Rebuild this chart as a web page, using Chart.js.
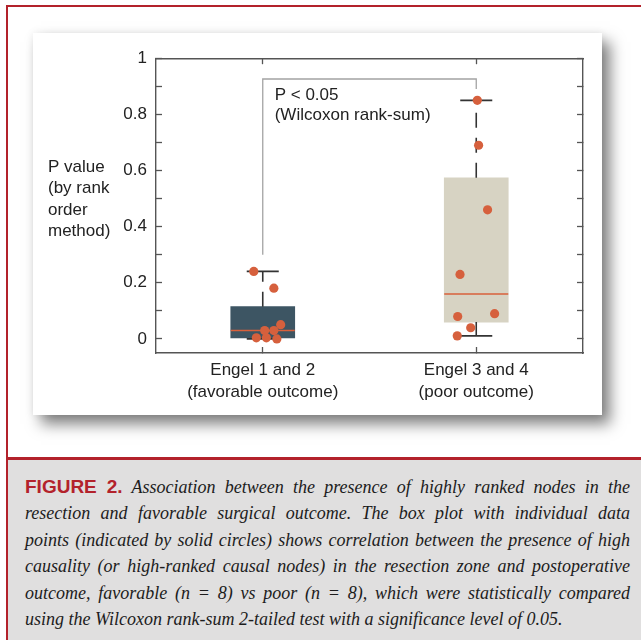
<!DOCTYPE html>
<html><head><meta charset="utf-8">
<script src="https://cdn.jsdelivr.net/npm/chart.js@4.4.1/dist/chart.umd.min.js"></script>
<style>
html,body{margin:0;padding:0;background:#fff;}
body{width:641px;height:640px;position:relative;overflow:hidden;}
#topline{position:absolute;left:6px;top:5px;width:635px;height:2px;background:#b3222b;}
#leftline{position:absolute;left:6px;top:5px;width:2px;height:635px;background:#b3222b;z-index:3;}
#card{position:absolute;left:33px;top:33px;width:569px;height:382px;background:#fff;
  box-shadow:8px 9px 14px rgba(0,0,0,0.5),0 0 8px rgba(0,0,0,0.07);}
#card canvas{position:absolute;left:0;top:0;}
#capbg{position:absolute;left:6px;top:457px;width:635px;height:183px;background:#e0dfdf;border-top:3px solid #b3222b;box-sizing:border-box;}
#caption{position:absolute;left:25px;top:474px;width:605px;font:italic 18px "Liberation Serif","Times New Roman",serif;line-height:26.4px;color:#1c1c1c;}
.ln{white-space:nowrap;}
.j{text-align:justify;text-align-last:justify;}
.fig{font:bold normal 19px "Liberation Sans",Arial,sans-serif;color:#b3222b;}
</style>
</head><body>
<div id="topline"></div>
<div id="leftline"></div>
<div id="card"><canvas id="c" width="569" height="382"></canvas></div>
<div id="capbg"></div>
<div id="caption">
<div class="ln j"><span class="fig">FIGURE 2.</span> Association between the presence of highly ranked nodes in the</div>
<div class="ln j">resection and favorable surgical outcome. The box plot with individual data</div>
<div class="ln j">points (indicated by solid circles) shows correlation between the presence of high</div>
<div class="ln j">causality (or high-ranked causal nodes) in the resection zone and postoperative</div>
<div class="ln j">outcome, favorable (n = 8) vs poor (n = 8), which were statistically compared</div>
<div class="ln">using the Wilcoxon rank-sum 2-tailed test with a significance level of 0.05.</div>
</div>
<script>
// ---- data ----
const categories = [['Engel 1 and 2', '(favorable outcome)'], ['Engel 3 and 4', '(poor outcome)']];
const groupX = [1, 2];
const q1 = [0.004, 0.060];
const medians = [0.030, 0.160];
const q3 = [0.115, 0.574];
const whiskerLow = [0.0, 0.011];
const whiskerHigh = [0.2405, 0.850];
const favorableX = [0.958, 1.052, 1.084, 1.009, 1.052, 0.970, 1.017, 1.066];
const favorableP = [0.2405, 0.181, 0.051, 0.030, 0.030, 0.004, 0.004, 0.0];
const poorX = [2.005, 2.011, 2.053, 1.924, 1.913, 2.086, 1.974, 1.911];
const poorP = [0.850, 0.690, 0.460, 0.230, 0.080, 0.090, 0.040, 0.011];
const yTickValues = [0, 0.1, 0.2, 0.3, 0.4, 0.5, 0.6, 0.7, 0.8, 0.9, 1];
const yTickLabels = ['0', '', '0.2', '', '0.4', '', '0.6', '', '0.8', '', '1'];
const bracketX = [1, 1, 2, 2];
const bracketY = [0.30, 0.926, 0.926, 0.89];
const annotationLines = ['P < 0.05', '(Wilcoxon rank-sum)'];
const annotationPos = [1.056, 0.868];
const yTitleLines = ['P value', '(by rank', 'order', 'method)'];

// ---- styles ----
const boxColors = ['#3d5563', '#d7d3c3'];
const dotColor = '#d6603d';
const medianColor = '#d9603b';
const whiskerColor = '#333333';
const frameColor = '#555555';
const textColor = '#222222';
const boxHalf = 0.15, capHalf = 0.075;

Chart.defaults.font.family = '"Liberation Sans", Arial, Helvetica, sans-serif';
Chart.defaults.color = textColor;

const lineDs = (pts, color, width, dash, order) => ({
  type: 'line', data: pts, borderColor: color, borderWidth: width, borderDash: dash || [],
  pointRadius: 0, fill: false, tension: 0, order: order, xAxisID: 'x', yAxisID: 'y'
});

const datasets = [];
datasets.push({
  type: 'bar', xAxisID: 'x', yAxisID: 'y', order: 10,
  data: groupX.map((c, i) => ({x: c, y: [q1[i], q3[i]]})),
  backgroundColor: boxColors, borderWidth: 0, barThickness: 64
});
groupX.forEach((c, i) => {
  datasets.push(lineDs([{x: c, y: q3[i]}, {x: c, y: whiskerHigh[i]}], whiskerColor, 1.6, [15, 10], 8));
  datasets.push(lineDs([{x: c, y: q1[i]}, {x: c, y: whiskerLow[i]}], whiskerColor, 1.6, null, 8));
  datasets.push(lineDs([{x: c - capHalf, y: whiskerHigh[i]}, {x: c + capHalf, y: whiskerHigh[i]}], whiskerColor, 1.8, null, 7));
  datasets.push(lineDs([{x: c - capHalf, y: whiskerLow[i]}, {x: c + capHalf, y: whiskerLow[i]}], whiskerColor, 1.8, null, 7));
  datasets.push(lineDs([{x: c - boxHalf, y: medians[i]}, {x: c + boxHalf, y: medians[i]}], medianColor, 1.4, null, 6));
});
datasets.push(lineDs(bracketX.map((v, i) => ({x: v, y: bracketY[i]})), '#a3a3a3', 1.3, null, 9));
[[favorableX, favorableP], [poorX, poorP]].forEach(([xs, ys]) => {
  datasets.push({
    type: 'scatter', xAxisID: 'x', yAxisID: 'y', order: 1,
    data: xs.map((v, i) => ({x: v, y: ys[i]})),
    backgroundColor: dotColor, borderWidth: 0, pointRadius: 4.6, pointHoverRadius: 4.6
  });
});

const gridOpts = {display: true, drawOnChartArea: false, drawTicks: true, tickLength: -6, tickColor: frameColor, tickWidth: 1.3, offset: false};
const borderOpts = {display: true, color: frameColor, width: 1.4};

const textPlugin = {
  id: 'figText',
  afterDraw(chart) {
    const {ctx, chartArea, scales} = chart;
    ctx.save();
    ctx.fillStyle = textColor;
    ctx.font = '17px "Liberation Sans", Arial, sans-serif';
    ctx.textBaseline = 'middle';
    ctx.textAlign = 'left';
    const ax = scales.x.getPixelForValue(annotationPos[0]);
    const ay = scales.y.getPixelForValue(annotationPos[1]);
    annotationLines.forEach((t, i) => ctx.fillText(t, ax, ay + i * 20));
    const tx = chartArea.left - 108, ty = chartArea.top + 109;
    yTitleLines.forEach((t, i) => ctx.fillText(t, tx, ty + i * 21.5));
    ctx.restore();
  }
};

new Chart(document.getElementById('c'), {
  type: 'bar',
  data: {datasets},
  options: {
    responsive: false, animation: false,
    layout: {padding: {left: 43, right: 19, top: 21, bottom: 12}},
    plugins: {legend: {display: false}, tooltip: {enabled: false}},
    events: [],
    scales: {
      x: {
        type: 'linear', position: 'bottom', min: 0.5, max: 2.5, offset: false, bounds: 'data',
        afterBuildTicks: s => { s.ticks = groupX.map(v => ({value: v})); },
        afterFit: s => { s.height = 50; },
        ticks: {autoSkip: false, maxRotation: 0, minRotation: 0, padding: 12, color: textColor,
          font: {size: 17, lineHeight: 1.3}, callback: (v, i) => categories[i]},
        grid: gridOpts, border: borderOpts
      },
      y: {
        type: 'linear', position: 'left', min: -0.05, max: 1, bounds: 'data',
        afterBuildTicks: s => { s.ticks = yTickValues.map(v => ({value: v})); },
        afterFit: s => { s.width = 80; },
        ticks: {autoSkip: false, padding: 15, color: textColor, font: {size: 17},
          callback: (v, i) => yTickLabels[i]},
        grid: gridOpts, border: borderOpts
      },
      x2: {
        type: 'linear', position: 'top', min: 0.5, max: 2.5, offset: false, bounds: 'data', display: true,
        afterBuildTicks: s => { s.ticks = groupX.map(v => ({value: v})); },
        afterFit: s => { s.height = 0; },
        ticks: {display: false}, grid: gridOpts, border: borderOpts
      },
      y2: {
        type: 'linear', position: 'right', min: -0.05, max: 1, bounds: 'data', display: true,
        afterBuildTicks: s => { s.ticks = yTickValues.map(v => ({value: v})); },
        afterFit: s => { s.width = 0; },
        ticks: {display: false}, grid: gridOpts, border: borderOpts
      }
    }
  },
  plugins: [textPlugin]
});
</script>
</body></html>
